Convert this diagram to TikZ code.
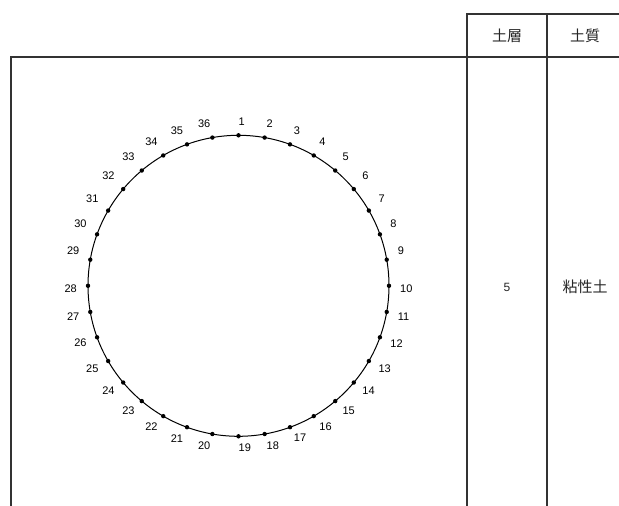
\documentclass[tikz,border=0pt]{standalone}
\usepackage{fontspec}
\setmainfont{Liberation Sans}
\newfontfamily\cjk{Noto Sans CJK JP}
\usetikzlibrary{positioning,calc}
\tikzset{
  frameline/.style = {line width=1.3pt, black!80},
  ptdot/.style     = {circle, fill=black, inner sep=0pt, minimum size=4.4pt},
  ptlabel/.style   = {font=\fontsize{11}{13}\selectfont, inner sep=0pt},
  cell/.style      = {font=\cjk\fontsize{15}{17}\selectfont, inner sep=0pt, black!85}
}
\begin{document}
\begin{tikzpicture}[x=1pt, y=-1pt]
        \useasboundingbox (0,0) rectangle (619,506);
        \coordinate (ctr)        at (238.5, 285.8);
        \coordinate (headtopL)   at (467, 14);
        \coordinate (headtopR)   at (619, 14);
        \coordinate (colA)       at (467, 506);
        \coordinate (colB)       at (547, 506);
        \coordinate (colBtop)    at (547, 14);
        \coordinate (rowL)       at (11, 57);
        \coordinate (rowR)       at (619, 57);
        \coordinate (leftbot)    at (11, 506);
        % table
        \draw[frameline] (headtopR) -- (headtopL) -- (colA);
        \draw[frameline] (colBtop) -- (colB);
        \draw[frameline] (rowR) -- (rowL) -- (leftbot);
        \node[cell] (hlayer) at (507, 36) {土層};
        \node[cell] (hsoil)  at (585, 36) {土質};
        \node[cell, font=\fontsize{12}{14}\selectfont] (layer) at (507, 287) {5};
        \node[cell] (soil)   at (585, 287) {粘性土};
        % circle of points
        \draw[line width=1pt] (ctr) circle (150.5);
        \foreach \i in {1,...,36} {
          \pgfmathsetmacro{\ang}{-90+(\i-1)*10}
          \pgfmathsetmacro{\cs}{cos(\ang)}
          \pgfmathsetmacro{\sn}{sin(\ang)}
          \pgfmathsetmacro{\dx}{11*\cs}
          \pgfmathsetmacro{\dy}{\sn<0 ? -7.5-6.5*min(1,-\sn/0.7) : 3+8.5*\sn}
          \ifdim\cs pt>-0.01pt \def\anc{west}\else\def\anc{east}\fi
          \node[ptdot] (p\i) at ($(ctr)+(\ang:150.5)$) {};
          \node[ptlabel, anchor=\anc] (l\i) at ($(p\i)+(\dx,\dy)$) {\i};
        }
\end{tikzpicture}
\end{document}
